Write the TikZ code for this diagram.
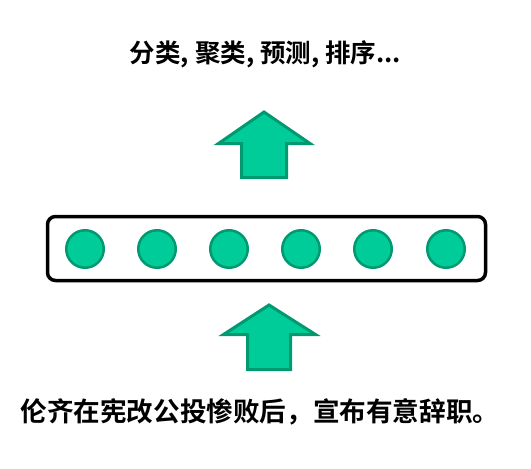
\documentclass[tikz,border=0pt]{standalone}
\usepackage{fontspec}
\newfontfamily\cjk{Noto Sans CJK SC Bold}
\definecolor{gfill}{RGB}{0,204,153}
\definecolor{gline}{RGB}{0,153,112}
\begin{document}
\begin{tikzpicture}[x=1pt,y=-1pt,
  unit/.style={circle,draw=gline,fill=gfill,line width=2.5pt,minimum size=37.5pt,inner sep=0pt},
  bigarrow/.style={draw=gline,fill=gfill,line width=3pt},
  holder/.style={draw=black,line width=3.5pt,rounded corners=8pt},
  txt/.style={text=black,inner sep=0pt}]
\useasboundingbox (0,0) rectangle (531,469);
\draw[holder] (47.5,216.5) rectangle (485.5,280.5);
\foreach \i/\x in {1/85,2/157,3/229,4/301,5/373,6/446}
  \node[unit] (u\i) at (\x,249) {};
\draw[bigarrow] (264,112) -- (310,143.5) -- (286.5,143.5) -- (286.5,177.5) -- (241.5,177.5) -- (241.5,143.5) -- (218.5,143.5) -- cycle;
\draw[bigarrow] (269,305) -- (315.5,334.5) -- (290.5,334.5) -- (290.5,369.5) -- (247.5,369.5) -- (247.5,334.5) -- (223.5,334.5) -- cycle;
\node[txt,font=\cjk\fontsize{25.5}{30}\selectfont] (top) at (265.5,54) {分类, 聚类, 预测, 排序...};
\node[txt,font=\cjk\fontsize{26.6}{30}\selectfont] (bottom) at (260,412) {伦齐在宪改公投惨败后，宣布有意辞职。};
\end{tikzpicture}
\end{document}
